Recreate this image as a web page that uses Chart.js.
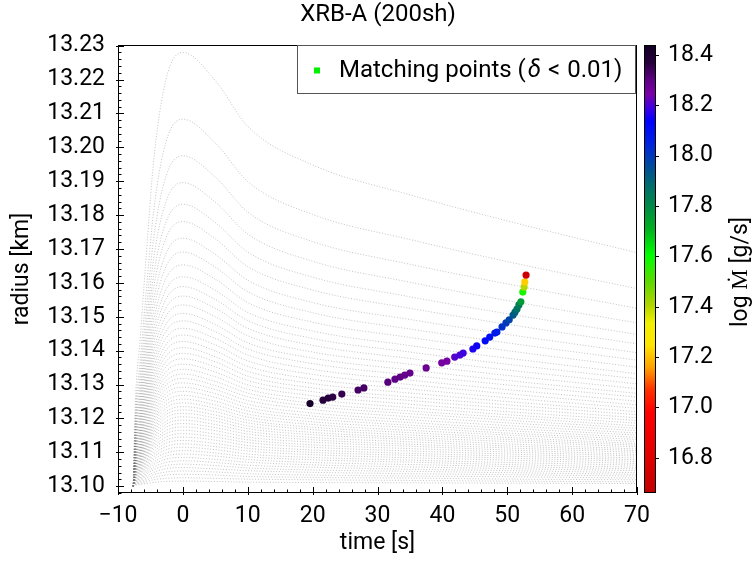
<!DOCTYPE html>
<html><head><meta charset="utf-8">
<script src="https://cdn.jsdelivr.net/npm/chart.js@4/dist/chart.umd.min.js"></script>
<style>html,body{margin:0;padding:0;background:#fff;overflow:hidden}#wrap{width:756px;height:563px}</style>
</head><body><div id="wrap"><canvas id="c" width="756" height="563"></canvas></div>
<script>
// ---- data ----
const knotTimes = [-7.65, -7.35, -6.6, -5.7, -4.5, -2.6, 0, 5, 10, 20, 35, 50, 70];
const curveRadii = [
[13.1000,13.1233,13.1431,13.1666,13.1960,13.2201,13.2280,13.2197,13.2062,13.1948,13.1860,13.1783,13.1689],
[13.1000,13.1197,13.1365,13.1563,13.1812,13.2016,13.2083,13.2013,13.1899,13.1802,13.1728,13.1663,13.1583],
[13.1000,13.1177,13.1329,13.1507,13.1731,13.1915,13.1975,13.1912,13.1809,13.1722,13.1655,13.1597,13.1525],
[13.1000,13.1163,13.1302,13.1466,13.1672,13.1840,13.1896,13.1838,13.1744,13.1664,13.1602,13.1548,13.1482],
[13.1000,13.1151,13.1280,13.1433,13.1624,13.1780,13.1832,13.1778,13.1691,13.1617,13.1559,13.1509,13.1448],
[13.1000,13.1142,13.1263,13.1406,13.1586,13.1733,13.1781,13.1730,13.1648,13.1579,13.1525,13.1478,13.1420],
[13.1000,13.1133,13.1247,13.1381,13.1549,13.1687,13.1732,13.1684,13.1608,13.1542,13.1492,13.1448,13.1394],
[13.1000,13.1126,13.1233,13.1359,13.1518,13.1648,13.1691,13.1646,13.1574,13.1512,13.1464,13.1423,13.1372],
[13.1000,13.1119,13.1220,13.1340,13.1490,13.1613,13.1653,13.1611,13.1542,13.1484,13.1439,13.1400,13.1351],
[13.1000,13.1112,13.1208,13.1321,13.1464,13.1580,13.1618,13.1578,13.1513,13.1458,13.1415,13.1378,13.1332],
[13.1000,13.1107,13.1198,13.1306,13.1442,13.1552,13.1589,13.1551,13.1489,13.1436,13.1396,13.1360,13.1317],
[13.1000,13.1102,13.1189,13.1292,13.1421,13.1526,13.1561,13.1525,13.1466,13.1416,13.1377,13.1343,13.1302],
[13.1000,13.1097,13.1180,13.1278,13.1401,13.1502,13.1535,13.1500,13.1444,13.1396,13.1360,13.1327,13.1288],
[13.1000,13.1093,13.1172,13.1265,13.1383,13.1478,13.1510,13.1477,13.1423,13.1378,13.1343,13.1312,13.1274],
[13.1000,13.1089,13.1164,13.1254,13.1366,13.1458,13.1488,13.1456,13.1405,13.1362,13.1328,13.1299,13.1263],
[13.1000,13.1085,13.1157,13.1242,13.1350,13.1437,13.1466,13.1436,13.1387,13.1345,13.1313,13.1285,13.1251],
[13.1000,13.1081,13.1150,13.1232,13.1335,13.1418,13.1446,13.1417,13.1370,13.1330,13.1300,13.1273,13.1240],
[13.1000,13.1078,13.1144,13.1222,13.1320,13.1401,13.1427,13.1399,13.1354,13.1316,13.1287,13.1261,13.1230],
[13.1000,13.1074,13.1138,13.1213,13.1307,13.1384,13.1409,13.1382,13.1339,13.1303,13.1275,13.1250,13.1220],
[13.1000,13.1071,13.1132,13.1204,13.1294,13.1368,13.1392,13.1367,13.1325,13.1290,13.1263,13.1240,13.1211],
[13.1000,13.1068,13.1127,13.1196,13.1282,13.1353,13.1376,13.1352,13.1312,13.1279,13.1253,13.1230,13.1202],
[13.1000,13.1066,13.1121,13.1187,13.1270,13.1338,13.1360,13.1337,13.1299,13.1267,13.1242,13.1220,13.1194],
[13.1000,13.1063,13.1116,13.1179,13.1259,13.1324,13.1345,13.1323,13.1286,13.1256,13.1232,13.1211,13.1186],
[13.1000,13.1060,13.1112,13.1172,13.1248,13.1310,13.1331,13.1309,13.1275,13.1245,13.1222,13.1203,13.1178],
[13.1000,13.1058,13.1107,13.1165,13.1239,13.1298,13.1318,13.1297,13.1264,13.1236,13.1214,13.1195,13.1171],
[13.1000,13.1056,13.1103,13.1159,13.1229,13.1286,13.1305,13.1285,13.1253,13.1226,13.1205,13.1187,13.1164],
[13.1000,13.1053,13.1098,13.1152,13.1219,13.1274,13.1292,13.1273,13.1242,13.1216,13.1196,13.1179,13.1157],
[13.1000,13.1051,13.1094,13.1146,13.1210,13.1263,13.1280,13.1262,13.1232,13.1207,13.1188,13.1171,13.1151],
[13.1000,13.1049,13.1090,13.1139,13.1201,13.1251,13.1268,13.1251,13.1222,13.1199,13.1180,13.1164,13.1144],
[13.1000,13.1047,13.1087,13.1134,13.1193,13.1241,13.1257,13.1240,13.1213,13.1190,13.1173,13.1157,13.1138],
[13.1000,13.1045,13.1083,13.1128,13.1185,13.1231,13.1246,13.1230,13.1204,13.1182,13.1165,13.1151,13.1132],
[13.1000,13.1043,13.1079,13.1122,13.1176,13.1220,13.1235,13.1220,13.1195,13.1174,13.1158,13.1144,13.1126],
[13.1000,13.1041,13.1076,13.1117,13.1169,13.1211,13.1225,13.1210,13.1187,13.1167,13.1151,13.1138,13.1121],
[13.1000,13.1039,13.1072,13.1112,13.1161,13.1202,13.1215,13.1201,13.1178,13.1159,13.1144,13.1132,13.1116],
[13.1000,13.1037,13.1069,13.1107,13.1154,13.1192,13.1205,13.1192,13.1170,13.1152,13.1138,13.1125,13.1110],
[13.1000,13.1035,13.1066,13.1101,13.1146,13.1183,13.1195,13.1182,13.1162,13.1144,13.1131,13.1119,13.1105],
[13.1000,13.1034,13.1062,13.1096,13.1139,13.1174,13.1185,13.1173,13.1154,13.1137,13.1124,13.1113,13.1100],
[13.1000,13.1032,13.1059,13.1091,13.1131,13.1164,13.1175,13.1164,13.1145,13.1130,13.1118,13.1107,13.1094],
[13.1000,13.1030,13.1056,13.1086,13.1124,13.1155,13.1165,13.1154,13.1137,13.1122,13.1111,13.1101,13.1089],
[13.1000,13.1028,13.1052,13.1081,13.1116,13.1145,13.1155,13.1145,13.1129,13.1115,13.1104,13.1095,13.1083],
[13.1000,13.1026,13.1049,13.1075,13.1109,13.1136,13.1145,13.1136,13.1120,13.1107,13.1097,13.1089,13.1078],
[13.1000,13.1025,13.1045,13.1070,13.1101,13.1127,13.1135,13.1126,13.1112,13.1100,13.1091,13.1083,13.1073],
[13.1000,13.1023,13.1042,13.1065,13.1094,13.1117,13.1125,13.1117,13.1104,13.1093,13.1084,13.1077,13.1067],
[13.1000,13.1021,13.1039,13.1060,13.1086,13.1108,13.1115,13.1108,13.1095,13.1085,13.1077,13.1070,13.1062],
[13.1000,13.1019,13.1035,13.1055,13.1079,13.1098,13.1105,13.1098,13.1087,13.1078,13.1071,13.1064,13.1056],
[13.1000,13.1017,13.1032,13.1049,13.1071,13.1089,13.1095,13.1089,13.1079,13.1070,13.1064,13.1058,13.1051],
[13.1000,13.1015,13.1029,13.1044,13.1064,13.1080,13.1085,13.1079,13.1071,13.1063,13.1057,13.1052,13.1046],
[13.1000,13.1014,13.1025,13.1039,13.1056,13.1070,13.1075,13.1070,13.1062,13.1056,13.1050,13.1046,13.1040],
[13.1000,13.1012,13.1022,13.1034,13.1049,13.1061,13.1065,13.1061,13.1054,13.1048,13.1044,13.1040,13.1035],
[13.1000,13.1010,13.1019,13.1029,13.1041,13.1052,13.1055,13.1051,13.1046,13.1041,13.1037,13.1034,13.1030],
[13.1000,13.1008,13.1015,13.1023,13.1034,13.1042,13.1045,13.1042,13.1037,13.1033,13.1030,13.1028,13.1024],
[13.1000,13.1006,13.1012,13.1018,13.1026,13.1033,13.1035,13.1033,13.1029,13.1026,13.1024,13.1021,13.1019],
[13.1000,13.1005,13.1008,13.1013,13.1019,13.1023,13.1025,13.1023,13.1021,13.1019,13.1017,13.1015,13.1013],
[13.1000,13.1003,13.1005,13.1008,13.1011,13.1014,13.1015,13.1014,13.1012,13.1011,13.1010,13.1009,13.1008]
];
const matchTime   = [19.6,21.6,22.4,23.1,24.5,27.0,27.9,31.6,32.7,33.5,34.2,35.0,37.5,39.9,40.7,41.9,42.7,43.2,44.7,45.3,46.6,47.3,48.1,48.4,49.2,49.8,50.3,50.9,51.2,51.5,51.8,52.1,52.4,52.6,52.7,52.9];
const matchRadius = [13.1244,13.1254,13.1260,13.1263,13.1272,13.1284,13.1290,13.1307,13.1316,13.1322,13.1328,13.1334,13.1349,13.1364,13.1369,13.1381,13.1387,13.1393,13.1405,13.1414,13.1429,13.1440,13.1452,13.1455,13.1470,13.1482,13.1491,13.1505,13.1514,13.1523,13.1535,13.1544,13.1573,13.1588,13.1603,13.1623];
const matchLogMdot = [18.42,18.37,18.37,18.36,18.35,18.33,18.33,18.31,18.30,18.30,18.29,18.29,18.28,18.25,18.25,18.21,18.20,18.19,18.16,18.15,18.11,18.10,18.08,18.07,18.02,18.00,17.98,17.93,17.91,17.86,17.84,17.76,17.58,17.40,17.22,16.72];
const xTicks = [-10,0,10,20,30,40,50,60,70];
const yTicks = [13.10,13.11,13.12,13.13,13.14,13.15,13.16,13.17,13.18,13.19,13.20,13.21,13.22,13.23];
const cbarTicks = [16.8,17.0,17.2,17.4,17.6,17.8,18.0,18.2,18.4];
const cbarMin = 16.66, cbarMax = 18.44;

// ---- colour map (top = high, bottom = low) ----
const cmapStops = [
 [0.00,'#100024'],[0.04,'#26003c'],[0.08,'#600088'],[0.11,'#7a00a6'],[0.14,'#4000e0'],
 [0.17,'#0000ff'],[0.22,'#0022e0'],[0.27,'#004c9c'],[0.31,'#006a70'],[0.36,'#008a48'],
 [0.41,'#00b020'],[0.47,'#00ff00'],[0.53,'#60d800'],[0.58,'#b0d400'],[0.62,'#f0f000'],
 [0.67,'#ffe400'],[0.72,'#ffa000'],[0.77,'#ff3000'],[0.82,'#ff0000'],[0.92,'#e00000'],[1.00,'#c00000']
];
function hexRgb(h){return [parseInt(h.substr(1,2),16),parseInt(h.substr(3,2),16),parseInt(h.substr(5,2),16)];}
function cmap(v){
  let u=(cbarMax-v)/(cbarMax-cbarMin); u=Math.max(0,Math.min(1,u));
  for(let i=1;i<cmapStops.length;i++){
    if(u<=cmapStops[i][0]){
      const a=cmapStops[i-1], b=cmapStops[i]; const f=(u-a[0])/(b[0]-a[0]);
      const ca=hexRgb(a[1]), cb=hexRgb(b[1]);
      return 'rgb('+ca.map((c,k)=>Math.round(c+(cb[k]-c)*f)).join(',')+')';
    }
  }
  return cmapStops[cmapStops.length-1][1];
}

const FONT='Roboto';
Chart.defaults.font.family=FONT;
Chart.defaults.color='#000';

const datasets=[];
datasets.push({
  type:'scatter', label:'Matching points',
  data: matchTime.map((t,i)=>({x:t,y:matchRadius[i]})),
  pointRadius:3.6, pointHoverRadius:3.6, pointBorderWidth:0,
  pointBackgroundColor: matchLogMdot.map(cmap), pointBorderColor: matchLogMdot.map(cmap),
  order:0
});
curveRadii.forEach((row,ci)=>{
  datasets.push({
    type:'line', data: knotTimes.map((t,i)=>({x:t,y:row[i]})),
    borderColor:'rgba(120,120,120,0.6)', borderWidth:0.75, borderDash:[1,1.8],
    pointRadius:0, cubicInterpolationMode:'monotone', fill:false, order:1
  });
});

function setTicks(arr){return s=>{s.ticks=arr.map(v=>({value:v}));};}

const decor={
  id:'decor',
  afterDatasetsDraw(chart){
    const ctx=chart.ctx, a=chart.chartArea, xs=chart.scales.x, ys=chart.scales.y, cs=chart.scales.cb;
    ctx.save();
    ctx.strokeStyle='#000'; ctx.lineWidth=1;
    ctx.strokeRect(Math.round(a.left)+0.5,Math.round(a.top)+0.5,Math.round(a.right-a.left)-1,Math.round(a.bottom-a.top)-1);
    ctx.beginPath();
    yTicks.forEach(v=>{const y=Math.round(ys.getPixelForValue(v))+0.5; ctx.moveTo(a.left-2,y); ctx.lineTo(a.left+6,y);});
    for(let k=0;k<=66;k++){const v=13.098+k*0.002; if(v>13.2302) break; const y=Math.round(ys.getPixelForValue(v))+0.5; ctx.moveTo(a.left,y); ctx.lineTo(a.left+3.5,y);}
    xTicks.forEach(v=>{const x=Math.round(xs.getPixelForValue(v))+0.5; ctx.moveTo(x,a.bottom+2); ctx.lineTo(x,a.bottom-6);});
    for(let v=-10;v<=70;v+=2){const x=Math.round(xs.getPixelForValue(v))+0.5; ctx.moveTo(x,a.bottom); ctx.lineTo(x,a.bottom-3.5);}
    ctx.stroke();
    // colorbar
    const cbL=a.right+7, cbW=11, cbT=a.top, cbB=a.bottom;
    const g=ctx.createLinearGradient(0,cbT,0,cbB);
    cmapStops.forEach(s=>g.addColorStop(s[0],s[1]));
    ctx.fillStyle=g; ctx.fillRect(cbL,cbT,cbW,cbB-cbT);
    ctx.strokeRect(Math.round(cbL)+0.5,Math.round(cbT)+0.5,cbW,Math.round(cbB-cbT)-1);
    ctx.beginPath();
    cbarTicks.forEach(v=>{const y=Math.round(cs.getPixelForValue(v))+0.5; ctx.moveTo(cbL+cbW,y); ctx.lineTo(cbL+cbW+4,y);});
    ctx.stroke();
    ctx.fillStyle='#000'; ctx.font='23px '+FONT; ctx.textAlign='center'; ctx.textBaseline='middle';
    ctx.save(); ctx.translate(741,272); ctx.rotate(-Math.PI/2); ctx.fillText('log \u1E40 [g/s]',0,0); ctx.restore();
    ctx.font='24px '+FONT;
    ctx.fillText('XRB-A (200sh)',378,15);
    // legend
    const lx=297.5, ly=Math.round(a.top)+0.5, lw=338, lh=48;
    ctx.fillStyle='#fff'; ctx.fillRect(lx,ly,lw,lh);
    ctx.strokeStyle='#555'; ctx.strokeRect(lx,ly,lw,lh);
    ctx.fillStyle='#00f000'; ctx.fillRect(314,ly+22,6,6);
    ctx.fillStyle='#000'; ctx.textAlign='left'; ctx.textBaseline='middle';
    let tx=339; const ty=ly+25;
    const segs=[['Matching points (','normal',0],['\u03B4','italic',2],['<','normal',7],['0.01)','normal',7]];
    segs.forEach(s=>{tx+=s[2]; ctx.font=(s[1]==='italic'?'italic ':'')+'24px '+FONT; ctx.fillText(s[0],tx,ty); tx+=ctx.measureText(s[0]).width;});
    ctx.restore();
  }
};

new Chart(document.getElementById('c'),{
  data:{datasets},
  options:{
    responsive:false, animation:false, devicePixelRatio:1,
    layout:{padding:{top:45,left:0,right:0,bottom:0}},
    plugins:{legend:{display:false},tooltip:{enabled:false}},
    scales:{
      x:{type:'linear',position:'bottom',min:-10,max:70,afterBuildTicks:setTicks(xTicks),
         ticks:{callback:v=>v<0?'\u2212'+Math.abs(v):String(v),padding:9,font:{size:23},maxRotation:0,autoSkip:false,color:'#000'},
         grid:{display:false,drawTicks:false},border:{display:false},
         title:{display:true,text:'time [s]',font:{size:23},color:'#000',padding:{top:0,bottom:6}},
         afterFit:s=>{s.height=70;}},
      y:{type:'linear',position:'left',min:13.098,max:13.2302,afterBuildTicks:setTicks(yTicks),
         ticks:{callback:v=>Number(v).toFixed(2),padding:13,font:{size:23},autoSkip:false,color:'#000'},
         grid:{display:false,drawTicks:false},border:{display:false},
         title:{display:true,text:'radius [km]',font:{size:23},color:'#000',padding:{top:8,bottom:0}},
         afterFit:s=>{s.width=118;}},
      cb:{type:'linear',position:'right',min:cbarMin,max:cbarMax,afterBuildTicks:setTicks(cbarTicks),
         ticks:{callback:v=>Number(v).toFixed(1),padding:31,font:{size:23},autoSkip:false,color:'#000'},
         grid:{display:false,drawTicks:false},border:{display:false},
         afterFit:s=>{s.width=119;}}
    }
  },
  plugins:[decor]
});
</script></body></html>
